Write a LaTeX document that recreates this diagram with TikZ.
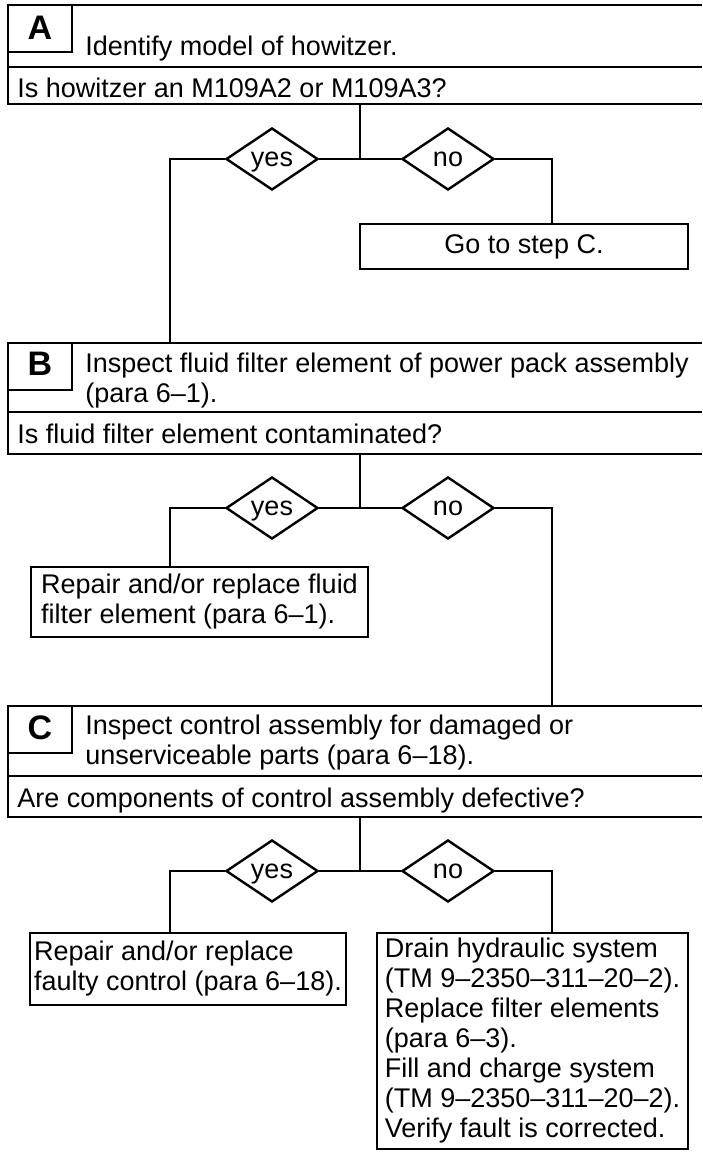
\documentclass[tikz,border=0pt]{standalone}
\usepackage{fontspec}
\setmainfont{Liberation Sans}
\usetikzlibrary{shapes.geometric}
\tikzset{
  frame/.style={line width=1.2pt},
  wire/.style={line width=1.2pt},
  decide/.style={draw, diamond, aspect=1.5, minimum width=46pt, minimum height=31pt,
    inner sep=0pt, line width=1.2pt, text height=7pt, text depth=0pt,
    font=\fontsize{13.5}{15}\selectfont},
  steplabel/.style={inner sep=0pt, font=\fontsize{17}{17}\selectfont\bfseries},
  steptext/.style={inner sep=0pt, align=left, font=\fontsize{13.5}{15}\selectfont},
  action/.style={draw, line width=1.2pt, inner sep=0pt, align=left, font=\fontsize{13.5}{15}\selectfont},
}

\begin{document}
\begin{tikzpicture}[x=0.5pt, y=-0.5pt]
  \useasboundingbox (0,0) rectangle (702,1152);
  % section frames: top rule, step rule, question rule, letter box
  \foreach \yt/\ys/\yb in {5/67/104, 343/412/454, 706/776/817}{
    \draw[frame] (702,\yt) -- (8,\yt) -- (8,\yb) -- (702,\yb);
    \draw[frame] (8,\ys) -- (702,\ys);
    \draw[frame] (8,\yt) rectangle (72,\yt+47);
  }
  % step letters
  \node[steplabel] (lA) at (40,28) {A};
  \node[steplabel] (lB) at (40,364) {B};
  \node[steplabel] (lC) at (40,728) {C};
  % step texts and questions
  \node[steptext, anchor=base west] (sA) at (85,55) {Identify model of howitzer.};
  \node[steptext, anchor=base west] (qA) at (17,97) {Is howitzer an M109A2 or M109A3?};
  \node[steptext, anchor=north west] (sB) at (85,353) {Inspect fluid filter element of power pack assembly\\(para 6–1).};
  \node[steptext, anchor=base west] (qB) at (17,443) {Is fluid filter element contaminated?};
  \node[steptext, anchor=north west] (sC) at (85,715) {Inspect control assembly for damaged or\\unserviceable parts (para 6–18).};
  \node[steptext, anchor=base west] (qC) at (17,807) {Are components of control assembly defective?};
  % yes/no branches under each question
  \foreach \s/\yb/\yj in {A/104/159, B/454/508, C/817/871}{
    \coordinate (q\s) at (360,\yb);
    \coordinate (j\s) at (360,\yj);
    \node[decide] (yes\s) at (272,\yj) {yes};
    \node[decide] (no\s) at (448,\yj) {no};
    \draw[wire] (q\s) -- (j\s);
    \draw[wire] (yes\s) -- (no\s);
  }
  % landing points on the next section
  \coordinate (tB) at (170,343);
  \coordinate (tC) at (552,706);
  % action boxes
  \node[action, minimum width=164pt, minimum height=22.5pt] (goC) at (524,246.5) {Go to step C.};
  \node[action, minimum width=168.5pt, minimum height=35pt] (fixB) at (199.5,602)
    {Repair and/or replace fluid\\filter element (para 6–1).};
  \node[action, minimum width=158pt, minimum height=36pt] (fixC) at (188,969)
    {Repair and/or replace\\faulty control (para 6–18).};
  \node[action, minimum width=155.5pt, minimum height=108pt] (drainC) at (532.5,1041)
    {Drain hydraulic system\\(TM 9–2350–311–20–2).\\Replace filter elements\\(para 6–3).\\Fill and charge system\\(TM 9–2350–311–20–2).\\Verify fault is corrected.};
  % connectors
  \draw[wire] (yesA.west) -| (tB);
  \draw[wire] (noA.east) -| (goC.north -| tC);
  \draw[wire] (yesB.west) -| (fixB.north -| tB);
  \draw[wire] (noB.east) -| (tC);
  \draw[wire] (yesC.west) -| (fixC.north -| tB);
  \draw[wire] (noC.east) -| (drainC.north -| tC);
\end{tikzpicture}
\end{document}
